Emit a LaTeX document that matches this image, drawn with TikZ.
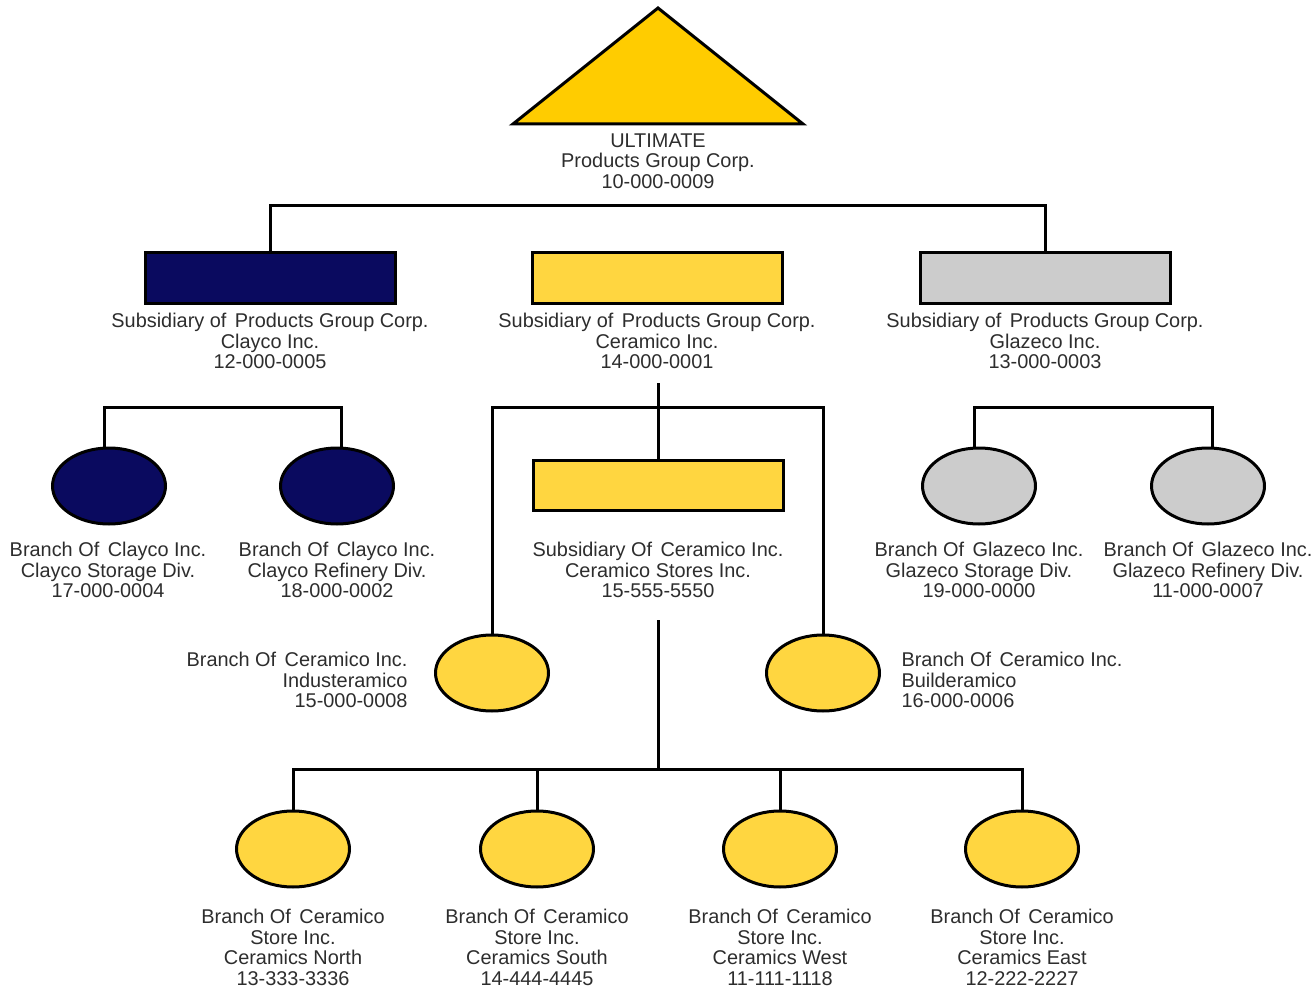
\documentclass[tikz,border=0pt]{standalone}
\usepackage{fontspec}
\setmainfont{Liberation Sans}
\usetikzlibrary{shapes.geometric}
\definecolor{navy}{RGB}{10,10,95}
\definecolor{gold}{RGB}{255,204,0}
\definecolor{ceryel}{RGB}{255,214,64}
\definecolor{lgray}{RGB}{204,204,204}
\definecolor{txt}{RGB}{45,45,45}
\newcommand{\gap}{\hspace{0.15em} }
\begin{document}
\begin{tikzpicture}[x=1pt,y=-1pt,line width=3pt,
  subbox/.style={draw, rectangle, minimum width=250pt, minimum height=50pt, inner sep=0pt},
  branch/.style={draw, ellipse, minimum width=113pt, minimum height=76pt, inner sep=0pt},
  lbl/.style={align=center, anchor=north, inner sep=0pt, text=txt,
    font=\fontsize{19.9}{20.5}\selectfont}]
\useasboundingbox (0,0) rectangle (1315,987);

% ultimate parent
\draw[fill=gold, line join=miter] (513,124) -- (658,8) -- (803,124) -- cycle;
\node[lbl] (ulttxt) at (658,132) {ULTIMATE\\Products Group Corp.\\10-000-0009};

% subsidiaries
\node[subbox, fill=navy] (clayco) at (270,278) {};
\node[lbl] (claycotxt) at (270,312) {Subsidiary of\gap Products Group Corp.\\Clayco Inc.\\12-000-0005};
\node[subbox, fill=ceryel] (ceramico) at (657,278) {};
\node[lbl] (ceramicotxt) at (657,312) {Subsidiary of\gap Products Group Corp.\\Ceramico Inc.\\14-000-0001};
\node[subbox, fill=lgray] (glazeco) at (1045,278) {};
\node[lbl] (glazecotxt) at (1045,312) {Subsidiary of\gap Products Group Corp.\\Glazeco Inc.\\13-000-0003};

\coordinate (topbus) at (658,206);
\path[draw] (clayco.north) |- (topbus) -| (glazeco.north);

% clayco branches
\node[branch, fill=navy] (clst) at (109,486) {};
\node[lbl] (clsttxt) at (108,541) {Branch Of\gap Clayco Inc.\\Clayco Storage Div.\\17-000-0004};
\node[branch, fill=navy] (clre) at (337,486) {};
\node[lbl] (clretxt) at (337,541) {Branch Of\gap Clayco Inc.\\Clayco Refinery Div.\\18-000-0002};
\coordinate (clbus) at (223,407);
\path[draw] (clst.97) |- (clbus) -| (clre.83);

% glazeco branches
\node[branch, fill=lgray] (glst) at (979,486) {};
\node[lbl] (glsttxt) at (979,541) {Branch Of\gap Glazeco Inc.\\Glazeco Storage Div.\\19-000-0000};
\node[branch, fill=lgray] (glre) at (1208,486) {};
\node[lbl] (glretxt) at (1208,541) {Branch Of\gap Glazeco Inc.\\Glazeco Refinery Div.\\11-000-0007};
\coordinate (glbus) at (1094,407);
\path[draw] (glst.97) |- (glbus) -| (glre.83);

% ceramico
\node[subbox, fill=ceryel] (stores) at (658,485) {};
\node[lbl] (storestxt) at (658,541) {Subsidiary Of\gap Ceramico Inc.\\Ceramico Stores Inc.\\15-555-5550};
\node[branch, fill=ceryel] (indus) at (492,673) {};
\node[lbl, align=right, anchor=north east] (industxt) at (409,651) {Branch Of\gap Ceramico Inc.\\Industeramico\\15-000-0008};
\node[branch, fill=ceryel] (builder) at (823,673) {};
\node[lbl, align=left, anchor=north west] (buildertxt) at (900,651) {Branch Of\gap Ceramico Inc.\\Builderamico\\16-000-0006};
\coordinate (cerstem) at (658,383);
\coordinate (cerbus) at (658,407);
\path[draw] (cerstem) -- (stores.north);
\path[draw] (indus.north) |- (cerbus) -| (builder.north);

% ceramico stores branches
\node[branch, fill=ceryel] (north) at (293,849) {};
\node[lbl] (northtxt) at (293,908) {Branch Of\gap Ceramico\\Store Inc.\\Ceramics North\\13-333-3336};
\node[branch, fill=ceryel] (south) at (537,849) {};
\node[lbl] (southtxt) at (537,908) {Branch Of\gap Ceramico\\Store Inc.\\Ceramics South\\14-444-4445};
\node[branch, fill=ceryel] (west) at (780,849) {};
\node[lbl] (westtxt) at (780,908) {Branch Of\gap Ceramico\\Store Inc.\\Ceramics West\\11-111-1118};
\node[branch, fill=ceryel] (east) at (1022,849) {};
\node[lbl] (easttxt) at (1022,908) {Branch Of\gap Ceramico\\Store Inc.\\Ceramics East\\12-222-2227};
\coordinate (storestem) at (658,620);
\coordinate (storebus) at (658,769);
\path[draw] (storestem) -- (storebus);
\path[draw] (north.north) |- (storebus) -| (east.north);
\path[draw] (south.north) |- (storebus);
\path[draw] (west.north) |- (storebus);
\end{tikzpicture}
\end{document}
